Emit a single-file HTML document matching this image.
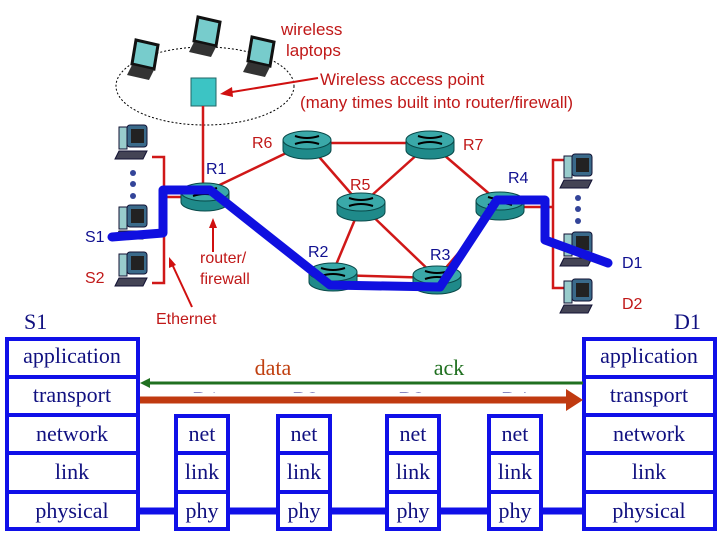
<!DOCTYPE html>
<html><head><meta charset="utf-8"><style>
body{margin:0;background:#fff;width:720px;height:540px;overflow:hidden}
.a{font-family:"Liberation Sans",sans-serif}
.s{font-family:"Liberation Serif",serif;font-size:22px;fill:#101080;text-anchor:middle}
.t{font-family:"Liberation Serif",serif;font-size:22px}
</style></head><body>
<svg width="720" height="540" viewBox="0 0 720 540" xmlns="http://www.w3.org/2000/svg">
<defs>
<g id="rt">
<path d="M-24,-6 v10 a24,9 0 0 0 48,0 v-10" fill="#1f8a8a" stroke="#0a4a4a" stroke-width="1"/>
<ellipse cx="0" cy="-6" rx="24" ry="9" fill="#3aa9a9" stroke="#0a4a4a" stroke-width="1"/>
<path d="M-12,-10 q12,4 24,0 M-12,-2 q12,-4 24,0" stroke="#000" stroke-width="2" fill="none"/>
</g>
<g id="pc">
<rect x="-8" y="-18" width="20" height="22" rx="3" fill="#3a6a8a" stroke="#113" />
<rect x="-4" y="-14" width="13" height="14" fill="#222"/>
<rect x="-16" y="-16" width="8" height="22" fill="#9cc" stroke="#113"/>
<path d="M-16,8 l28,0 l-4,8 l-28,0z" fill="#445" stroke="#113"/>
</g>
<g id="lp">
<path d="M-12,-20 l22,5 l-4,24 l-22,-5z" fill="#7cc" stroke="#111" stroke-width="3"/>
<path d="M-16,5 l22,5 l-5,10 l-22,-5z" fill="#333"/>
</g>
</defs>
<ellipse cx="205" cy="86" rx="89" ry="39" fill="none" stroke="#000" stroke-dasharray="2,2"/>
<use href="#lp" x="148" y="60"/><use href="#lp" x="210" y="37"/><use href="#lp" x="264" y="57"/>
<rect x="191" y="78" width="25" height="28" fill="#3cc4c4" stroke="#266"/>
<g class="a" font-size="17" fill="#c01818">
<text x="281" y="35">wireless</text>
<text x="286" y="56">laptops</text>
<text x="320" y="85">Wireless access point</text>
<text x="300" y="108">(many times built into router/firewall)</text>
</g>
<line x1="318" y1="78" x2="226" y2="93" stroke="#d01010" stroke-width="2"/>
<path d="M220,94 l12,-7 l1,10z" fill="#d01010"/>
<g stroke="#d01818" stroke-width="2.5" fill="none">
<line x1="203" y1="106" x2="203" y2="190"/>
<line x1="205" y1="192" x2="307" y2="143"/>
<line x1="307" y1="143" x2="430" y2="143"/>
<line x1="307" y1="143" x2="361" y2="205"/>
<line x1="430" y1="143" x2="361" y2="205"/>
<line x1="430" y1="143" x2="500" y2="203"/>
<line x1="361" y1="205" x2="333" y2="272"/>
<line x1="361" y1="205" x2="437" y2="278"/>
<line x1="333" y1="275" x2="437" y2="278"/>
<line x1="437" y1="278" x2="500" y2="205"/>
<polyline points="152,157 164,157 164,283 152,283"/>
<line x1="164" y1="197" x2="205" y2="197"/>
<polyline points="565,160 553,160 553,288 565,288"/>
<line x1="500" y1="207" x2="553" y2="207"/>
</g>
<use href="#rt" x="307" y="146"/><use href="#rt" x="430" y="146"/><use href="#rt" x="361" y="208"/>
<use href="#rt" x="205" y="198"/><use href="#rt" x="333" y="278"/><use href="#rt" x="437" y="281"/><use href="#rt" x="500" y="207"/>
<use href="#pc" x="135" y="143"/><use href="#pc" x="135" y="223"/><use href="#pc" x="135" y="270"/>
<use href="#pc" x="580" y="172"/><use href="#pc" x="580" y="250"/><use href="#pc" x="580" y="297"/>
<g fill="#334499"><circle cx="133" cy="173" r="3"/><circle cx="133" cy="184" r="3"/><circle cx="133" cy="196" r="3"/>
<circle cx="578" cy="198" r="3"/><circle cx="578" cy="209" r="3"/><circle cx="578" cy="221" r="3"/></g>
<polyline points="112,237 163,233 163,190 210,190 330,285 440,287 497,200 545,200 545,240 608,263" fill="none" stroke="#1010e0" stroke-width="9" stroke-linecap="round" stroke-linejoin="round"/>
<g class="a" font-size="16">
<text x="252" y="148" fill="#c01818">R6</text><text x="463" y="150" fill="#c01818">R7</text>
<text x="206" y="174" fill="#101090">R1</text><text x="350" y="190" fill="#c01818">R5</text>
<text x="508" y="183" fill="#101090">R4</text><text x="308" y="257" fill="#101090">R2</text>
<text x="430" y="260" fill="#101090">R3</text>
<text x="85" y="242" fill="#101090">S1</text><text x="85" y="283" fill="#c01818">S2</text>
<text x="622" y="268" fill="#101090">D1</text><text x="622" y="309" fill="#c01818">D2</text>
<text x="200" y="263" fill="#c01818">router/</text><text x="200" y="284" fill="#c01818">firewall</text>
<text x="156" y="324" fill="#c01818">Ethernet</text>
</g>
<line x1="213" y1="252" x2="213" y2="225" stroke="#d01010" stroke-width="2"/><path d="M213,218 l-4,10 l8,0z" fill="#d01010"/>
<line x1="192" y1="307" x2="172" y2="264" stroke="#d01010" stroke-width="2"/><path d="M169,257 l0,11 l7,-3z" fill="#d01010"/>
<text class="t" x="24" y="329" fill="#101080">S1</text>
<text class="t" x="674" y="329" fill="#101080">D1</text>
<g fill="none" stroke="#1010e8" stroke-width="4">
<rect x="7" y="339" width="131" height="190"/>
<line x1="7" y1="377" x2="138" y2="377"/><line x1="7" y1="415" x2="138" y2="415"/><line x1="7" y1="453" x2="138" y2="453"/><line x1="7" y1="492" x2="138" y2="492"/>
<rect x="584" y="339" width="131" height="190"/>
<line x1="584" y1="377" x2="715" y2="377"/><line x1="584" y1="415" x2="715" y2="415"/><line x1="584" y1="453" x2="715" y2="453"/><line x1="584" y1="492" x2="715" y2="492"/>
<rect x="176" y="416" width="52" height="113"/><line x1="176" y1="453" x2="228" y2="453"/><line x1="176" y1="492" x2="228" y2="492"/>
<rect x="278" y="416" width="52" height="113"/><line x1="278" y1="453" x2="330" y2="453"/><line x1="278" y1="492" x2="330" y2="492"/>
<rect x="387" y="416" width="52" height="113"/><line x1="387" y1="453" x2="439" y2="453"/><line x1="387" y1="492" x2="439" y2="492"/>
<rect x="489" y="416" width="52" height="113"/><line x1="489" y1="453" x2="541" y2="453"/><line x1="489" y1="492" x2="541" y2="492"/>
</g>
<g stroke="#1010e8" stroke-width="7"><line x1="138" y1="511" x2="176" y2="511"/><line x1="228" y1="511" x2="278" y2="511"/><line x1="330" y1="511" x2="387" y2="511"/><line x1="439" y1="511" x2="489" y2="511"/><line x1="541" y1="511" x2="584" y2="511"/></g>
<text class="s" x="206" y="407">R1</text><text class="s" x="306" y="407">R2</text><text class="s" x="412" y="407">R3</text><text class="s" x="515" y="407">R4</text>
<text class="t" x="273" y="375" fill="#c04010" text-anchor="middle">data</text>
<text class="t" x="449" y="375" fill="#207020" text-anchor="middle">ack</text>
<line x1="148" y1="383" x2="583" y2="383" stroke="#207020" stroke-width="3"/><path d="M140,383 l10,-5 l0,10z" fill="#207020"/>
<rect x="140" y="393" width="427" height="14" fill="#fff"/>
<line x1="140" y1="400" x2="567" y2="400" stroke="#c03a10" stroke-width="7"/><path d="M583,400 l-17,-11 l0,22z" fill="#c03a10"/>
<text class="s" x="72" y="363">application</text><text class="s" x="72" y="402">transport</text><text class="s" x="72" y="441">network</text><text class="s" x="72" y="479">link</text><text class="s" x="72" y="518">physical</text>
<text class="s" x="649" y="363">application</text><text class="s" x="649" y="402">transport</text><text class="s" x="649" y="441">network</text><text class="s" x="649" y="479">link</text><text class="s" x="649" y="518">physical</text>
<text class="s" x="202" y="441">net</text><text class="s" x="202" y="479">link</text><text class="s" x="202" y="518">phy</text>
<text class="s" x="304" y="441">net</text><text class="s" x="304" y="479">link</text><text class="s" x="304" y="518">phy</text>
<text class="s" x="413" y="441">net</text><text class="s" x="413" y="479">link</text><text class="s" x="413" y="518">phy</text>
<text class="s" x="515" y="441">net</text><text class="s" x="515" y="479">link</text><text class="s" x="515" y="518">phy</text>
</svg>
</body></html>
